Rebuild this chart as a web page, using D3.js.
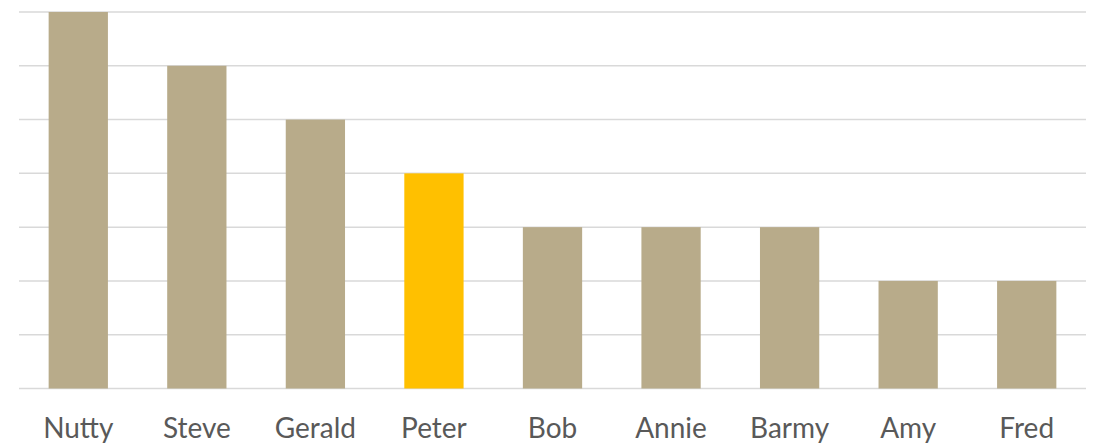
<!DOCTYPE html>
<html><head><meta charset="utf-8">
<script src="https://cdn.jsdelivr.net/npm/d3@7"></script>
<style>body{margin:0;background:#fff;} svg{display:block;}</style>
</head><body>
<svg id="chart" width="1094" height="444"></svg>
<script>
const categories = ["Nutty","Steve","Gerald","Peter","Bob","Annie","Barmy","Amy","Fred"];
const values = [7,6,5,4,3,3,3,2,2];
const highlight = "Peter";
const yTicks = [0,1,2,3,4,5,6,7];

const svg = d3.select("#chart");
const x = d3.scaleBand().domain(categories).range([19,1086]).paddingInner(0.5).paddingOuter(0.25);
const y = d3.scaleLinear().domain([0,7]).range([388.5,12]);

svg.append("g").selectAll("line").data(yTicks).join("line")
  .attr("x1",19).attr("x2",1086)
  .attr("y1",d=>y(d)).attr("y2",d=>y(d))
  .attr("stroke","#d9d9d9").attr("stroke-width",1.5);

svg.append("g").selectAll("rect").data(categories).join("rect")
  .attr("x",d=>x(d)).attr("width",x.bandwidth())
  .attr("y",(d,i)=>y(values[i])).attr("height",(d,i)=>y(0)-y(values[i]))
  .attr("fill",d=>d===highlight?"#ffc000":"#b8ab8a");

svg.append("g").selectAll("text").data(categories).join("text")
  .attr("x",d=>x(d)+x.bandwidth()/2).attr("y",438)
  .attr("text-anchor","middle")
  .attr("font-family","Lato, 'Open Sans', sans-serif")
  .attr("font-size",28).attr("fill","#595959")
  .text(d=>d);
</script>
</body></html>
